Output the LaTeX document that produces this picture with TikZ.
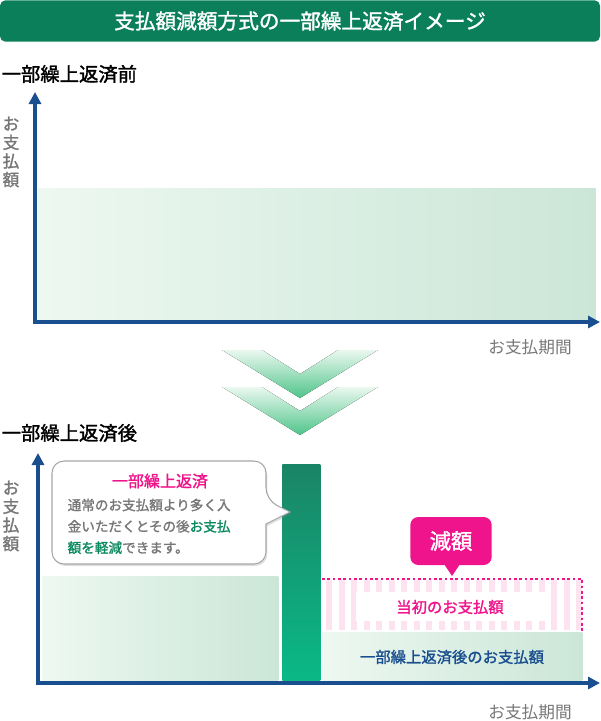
\documentclass[tikz,border=0pt]{standalone}
\usepackage{fontspec}
\setmainfont{Noto Sans CJK JP}
\newfontfamily\jpb{Noto Sans CJK JP}[FakeBold=1.5]
\usetikzlibrary{shadows,arrows.meta,patterns}
\definecolor{tgreen}{HTML}{0A7F5A}
\definecolor{axblue}{HTML}{1A4F8F}
\definecolor{lg1}{HTML}{EDF8F1}
\definecolor{lg2}{HTML}{CBE6D7}
\definecolor{pk}{HTML}{F0148C}
\definecolor{pkl}{HTML}{FDE3F0}
\definecolor{gtx}{HTML}{777777}
\definecolor{gbold}{HTML}{0A8A5E}
\definecolor{bartop}{HTML}{1A8466}
\definecolor{barbot}{HTML}{0AB986}
\definecolor{chtop}{HTML}{EAF8EF}
\definecolor{chbot}{HTML}{4FC48A}
\begin{document}
\begin{tikzpicture}[x=0.75pt,y=-0.75pt,
  axis/.style={axblue,line width=3pt,-{Triangle[length=9pt,width=9pt]}},
  grad/.style={left color=lg1,right color=lg2,draw=none},
  ylab/.style={gtx,font=\jpb\fontsize{12.5}{14}\selectfont,align=center},
  head/.style={font=\jpb\fontsize{14.5}{16}\selectfont,anchor=west},
  chev/.style={top color=chtop,bottom color=chbot,draw=none}]
\useasboundingbox (0,0) rectangle (600,721);
% title
\node[fill=tgreen,rounded corners=4pt,minimum width=450pt,minimum height=31pt,text=white,font=\jpb\fontsize{15.5}{17}\selectfont] (title) at (300,21) {支払額減額方式の一部繰上返済イメージ};
% before
\node[head] (h1) at (-3,74) {一部繰上返済前};
\node[grad,minimum width=418pt,minimum height=99pt,anchor=north west,inner sep=0] (r1) at (38,188) {};
\coordinate (o1) at (35,322);
\coordinate (yt1) at (35,92);
\coordinate (xe1) at (600,322);
\draw[axis] (o1) -- (yt1);
\draw[axis] ([xshift=-1.5pt]o1) -- (xe1);
\node[ylab] (yl1) at (11,152) {お\\支\\払\\額};
\node[gtx,font=\fontsize{12.5}{14}\selectfont] (xl1) at (530,347) {お支払期間};
% chevrons
\fill[chev] (222,350) -- (262,350) -- (300,374) -- (338,350) -- (378,350) -- (300,398) -- cycle;
\fill[chev] (222,387) -- (262,387) -- (300,411) -- (338,387) -- (378,387) -- (300,435) -- cycle;
% after
\node[head] (h2) at (-3,433) {一部繰上返済後};
\node[grad,minimum width=177pt,minimum height=78pt,anchor=north west,inner sep=0] (r2) at (42,576) {};
\node[top color=bartop,bottom color=barbot,minimum width=28.5pt,minimum height=162pt,anchor=north west,inner sep=0] (bar) at (282,464) {};
\node[grad,minimum width=195pt,minimum height=36pt,anchor=north west,inner sep=0] (r3) at (322,632) {};
\node[axblue,font=\jpb\fontsize{11.5}{13}\selectfont] (t3) at (452,657) {一部繰上返済後のお支払額};
% striped
\foreach \i in {0,...,20} {\fill[pkl] (326+\i*12.5,580) rectangle (332+\i*12.5,630);}
\fill[white] (356,592) rectangle (548,621);
\node[pk,font=\jpb\fontsize{11.5}{13}\selectfont] (t4) at (450,607) {当初のお支払額};
\draw[pk,line width=2pt,dotted] (322,579) -- (582,579) -- (582,631);
% callout
\node[fill=pk,rounded corners=6pt,minimum width=61pt,minimum height=36pt,text=white,font=\jpb\fontsize{16}{18}\selectfont] (gen) at (451,541) {減額};
\fill[pk] (444,564) -- (460,564) -- (452,576) -- cycle;
% bubble
\draw[gray!70,fill=white,line width=0.8pt,drop shadow={opacity=0.25,shadow xshift=1pt,shadow yshift=-1.5pt}] [rounded corners=9pt] (52,461) -- (266,461) -- (266,500) [sharp corners] -- (290,512) -- (266,524) [rounded corners=9pt] -- (266,564) -- (52,564) -- cycle;
\node[pk,font=\jpb\fontsize{12}{14}\selectfont] (bt) at (160,481) {一部繰上返済};
\node[gtx,font=\jpb\fontsize{10.2}{16}\selectfont,align=left,anchor=north west] (bb) at (63,494) {通常のお支払額より多く入\\金いただくとその後{\color{gbold}お支払}\\{\color{gbold}額を軽減}できます。};
% axes 2
\coordinate (o2) at (38,683);
\coordinate (yt2) at (38,453);
\coordinate (xe2) at (600,683);
\draw[axis] (o2) -- (yt2);
\draw[axis] ([xshift=-1.5pt]o2) -- (xe2);
\node[ylab] (yl2) at (11,516) {お\\支\\払\\額};
\node[gtx,font=\fontsize{12.5}{14}\selectfont] (xl2) at (530,712) {お支払期間};
\end{tikzpicture}
\end{document}
